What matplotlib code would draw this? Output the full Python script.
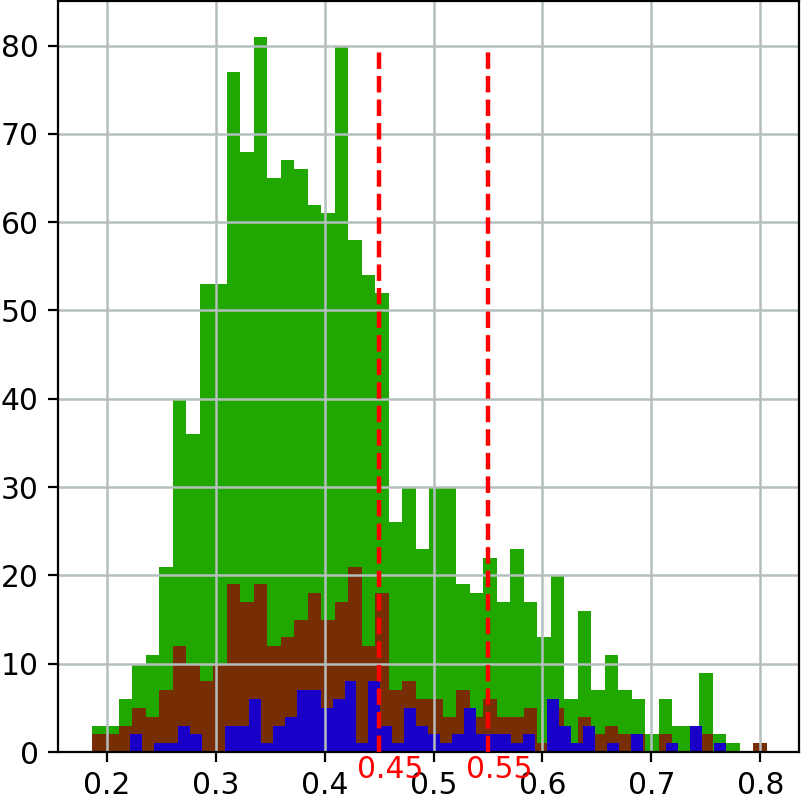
import numpy as np
import matplotlib
matplotlib.use("Agg")
import matplotlib.pyplot as plt

# Bin ranges (green & brown share bins; blue has its own)
gb_range = (0.1862, 0.8059)
blue_range = (0.2214, 0.7685)
n_bins = 50

green_counts = [3, 3, 6, 10, 11, 21, 40, 36, 53, 53, 77, 68, 81, 65, 67, 66, 62, 61, 80, 58,
                54, 52, 26, 30, 23, 30, 30, 19, 18, 22, 17, 23, 17, 13, 20, 6, 16, 7, 11, 7,
                6, 2, 6, 3, 3, 9, 2, 1, 0, 0]
brown_counts = [2, 2, 3, 5, 4, 7, 12, 10, 8, 10, 19, 17, 19, 12, 13, 15, 18, 15, 17, 21,
                12, 18, 7, 8, 6, 6, 4, 7, 4, 6, 4, 4, 5, 1, 5, 1, 4, 2, 3, 2,
                2, 0, 2, 0, 0, 2, 0, 0, 0, 1]
blue_counts = [2, 0, 1, 1, 3, 2, 0, 0, 3, 3, 6, 1, 3, 4, 7, 7, 5, 6, 8, 1,
               8, 3, 1, 5, 3, 2, 1, 2, 5, 2, 2, 2, 1, 2, 0, 6, 3, 1, 3, 0,
               1, 0, 2, 0, 0, 1, 0, 3, 0, 1]

thresholds = [0.45, 0.55]
threshold_labels = ["0.45", "0.55"]

green_color = "#20a800"
brown_color = "#782e04"
blue_color = "#1800c8"

plt.rcParams['font.family'] = ['DejaVu Sans']
fig = plt.figure(figsize=(8.02 / 2, 7.97 / 2), dpi=200)
ax = fig.add_axes([58 / 802, 45 / 797, (799 - 58) / 802, (796 - 45) / 797])

def draw(counts, rng, color):
    edges = np.linspace(rng[0], rng[1], n_bins + 1)
    centers = (edges[:-1] + edges[1:]) / 2
    ax.hist(centers, bins=edges, weights=counts, color=color, linewidth=0)

draw(green_counts, gb_range, green_color)
draw(brown_counts, gb_range, brown_color)
draw(blue_counts, blue_range, blue_color)

ax.grid(True, color="#b5bebe", linewidth=0.9)
ax.set_xlim(0.1553, 0.8355)
ax.set_ylim(0, 85.05)
ax.set_xticks([0.2, 0.3, 0.4, 0.5, 0.6, 0.7, 0.8])
ax.set_yticks(range(0, 81, 10))
ax.tick_params(labelsize=10.7)

for t, lab in zip(thresholds, threshold_labels):
    ax.vlines(t, 0, 80, colors="red", linestyles="dashed", linewidth=1.6, zorder=3)
    ax.text(t + 0.01, -3, lab, color="red", ha="center", va="baseline", fontsize=10.7)

fig.savefig("out.png", dpi=200)
